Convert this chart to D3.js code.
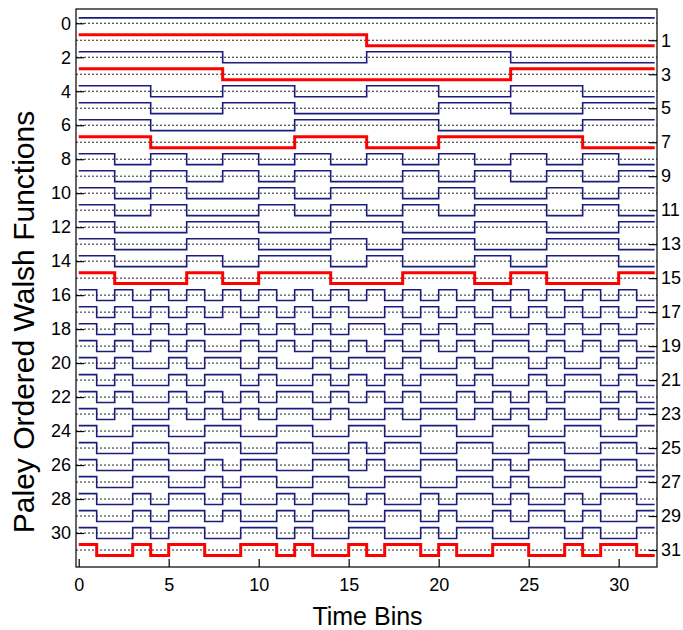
<!DOCTYPE html>
<html><head><meta charset="utf-8">
<script src="https://cdnjs.cloudflare.com/ajax/libs/d3/7.8.5/d3.min.js"></script>
<style>html,body{margin:0;padding:0;background:#fff;} svg{display:block;font-family:"Liberation Sans",Arial,sans-serif;}</style>
</head><body>
<script>
// Paley ordered Walsh functions, 32 time bins each ('+' = +1, '-' = -1)
const walshRows = [
  "++++++++++++++++++++++++++++++++",
  "++++++++++++++++----------------",
  "++++++++--------++++++++--------",
  "++++++++----------------++++++++",
  "++++----++++----++++----++++----",
  "++++----++++--------++++----++++",
  "++++--------++++++++--------++++",
  "++++--------++++----++++++++----",
  "++--++--++--++--++--++--++--++--",
  "++--++--++--++----++--++--++--++",
  "++--++----++--++++--++----++--++",
  "++--++----++--++--++--++++--++--",
  "++----++++----++++----++++----++",
  "++----++++----++--++++----++++--",
  "++----++--++++--++----++--++++--",
  "++----++--++++----++++--++----++",
  "+-+-+-+-+-+-+-+-+-+-+-+-+-+-+-+-",
  "+-+-+-+-+-+-+-+--+-+-+-+-+-+-+-+",
  "+-+-+-+--+-+-+-++-+-+-+--+-+-+-+",
  "+-+-+-+--+-+-+-+-+-+-+-++-+-+-+-",
  "+-+--+-++-+--+-++-+--+-++-+--+-+",
  "+-+--+-++-+--+-+-+-++-+--+-++-+-",
  "+-+--+-+-+-++-+-+-+--+-+-+-++-+-",
  "+-+--+-+-+-++-+--+-++-+-+-+--+-+",
  "+--++--++--++--++--++--++--++--+",
  "+--++--++--++--+-++--++--++--++-",
  "+--++--+-++--++-+--++--+-++--++-",
  "+--++--+-++--++--++--++-+--++--+",
  "+--+-++-+--+-++-+--+-++-+--+-++-",
  "+--+-++-+--+-++--++-+--+-++-+--+",
  "+--+-++--++-+--++--+-++--++-+--+",
  "+--+-++--++-+--+-++-+--++--+-++-"
];
const highlightRows = [1, 3, 7, 15, 31];
const xTicks = [0, 5, 10, 15, 20, 25, 30];
const leftTicks = d3.range(0, 31, 2);
const rightTicks = d3.range(1, 32, 2);
const xLabel = "Time Bins";
const yLabel = "Paley Ordered Walsh Functions";

const W = 683, H = 630;
const L = 76, R = 657, T = 9, B = 567;
const amp = 0.32;

const svg = d3.select("body").append("svg").attr("width", W).attr("height", H);
const x = d3.scaleLinear().domain([-0.15, 32.13]).range([L, R]);
const y = d3.scaleLinear().domain([-0.84, 32]).range([T, B]);

const g = svg.append("g");

// dotted reference lines at every integer row
g.selectAll("line.ref").data(d3.range(0, 32)).join("line")
  .attr("class", "ref")
  .attr("x1", L).attr("x2", R)
  .attr("y1", d => y(d)).attr("y2", d => y(d))
  .attr("stroke", "#222").attr("stroke-width", 1)
  .attr("stroke-dasharray", "2,2");

// step lines
const line = d3.line().curve(d3.curveStepAfter).x(d => x(d[0])).y(d => y(d[1]));
walshRows.forEach((s, i) => {
  const vals = s.split("").map(c => c === "+" ? 1 : -1);
  const pts = vals.map((v, j) => [j, i - amp * v]);
  pts.push([vals.length, i - amp * vals[vals.length - 1]]);
  const hi = highlightRows.includes(i);
  g.append("path").attr("d", line(pts))
    .attr("fill", "none")
    .attr("stroke", hi ? "#ff0000" : "#1c1c7c")
    .attr("stroke-width", hi ? 3 : 1.6)
    .attr("stroke-linejoin", "miter");
});

// frame
svg.append("rect").attr("x", L).attr("y", T).attr("width", R - L).attr("height", B - T)
  .attr("fill", "none").attr("stroke", "#000").attr("stroke-width", 1.2);

// axes with inward ticks
const fs = "18px";
const bottom = svg.append("g").attr("transform", `translate(0,${B})`)
  .call(d3.axisBottom(x).tickValues(xTicks).tickSizeInner(-8).tickSizeOuter(0).tickPadding(11));
const left = svg.append("g").attr("transform", `translate(${L},0)`)
  .call(d3.axisLeft(y).tickValues(leftTicks).tickSizeInner(-8).tickSizeOuter(0).tickPadding(5));
const right = svg.append("g").attr("transform", `translate(${R},0)`)
  .call(d3.axisRight(y).tickValues(rightTicks).tickSizeInner(-8).tickSizeOuter(0).tickPadding(4));
[bottom, left, right].forEach(a => {
  a.select(".domain").remove();
  a.selectAll("line").attr("stroke", "#000").attr("stroke-width", 1.2);
  a.selectAll("text").attr("font-size", fs).attr("fill", "#000")
    .attr("font-family", '"Liberation Sans", Arial, sans-serif');
});

svg.append("text").attr("x", 367.5).attr("y", 625)
  .attr("text-anchor", "middle").attr("font-size", "25px").attr("fill", "#000")
  .text(xLabel);
svg.append("text").attr("transform", `translate(34,322) rotate(-90)`)
  .attr("text-anchor", "middle").attr("font-size", "30px").attr("fill", "#000")
  .text(yLabel);
</script>
</body></html>
